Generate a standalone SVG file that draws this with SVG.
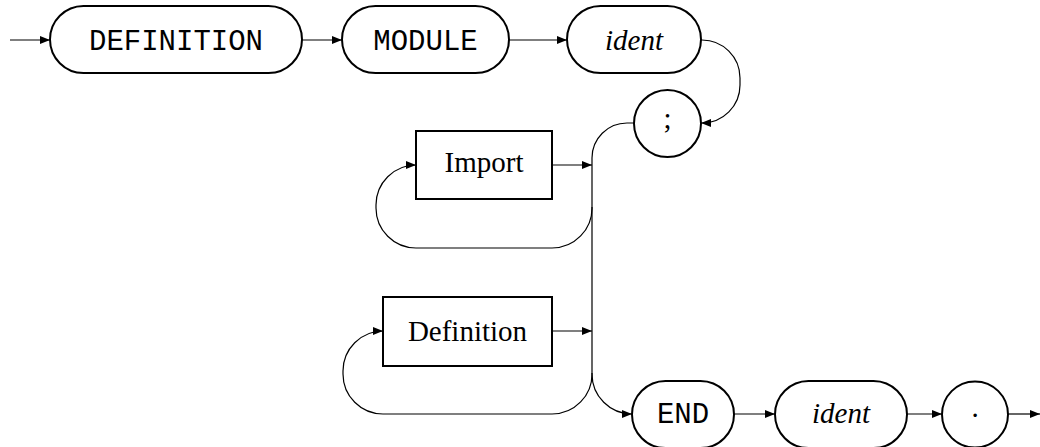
<svg xmlns="http://www.w3.org/2000/svg" width="1040" height="447" viewBox="0 0 1040 447">
<defs>
<marker id="arr" viewBox="0 0 10 8" refX="10" refY="4" markerWidth="10" markerHeight="8" markerUnits="userSpaceOnUse" orient="auto">
<path d="M0,0 L10,4 L0,8 Z" fill="#000"/>
</marker>
<style>
.term{fill:#fff;stroke:#000;stroke-width:2}
.nt{fill:#fff;stroke:#000;stroke-width:2}
.mono{font-family:"Liberation Mono","DejaVu Sans Mono",monospace;font-size:29px;text-anchor:middle;fill:#000}
.serif{font-family:"Liberation Serif","DejaVu Serif",serif;font-size:29px;text-anchor:middle;fill:#000}
.it{font-style:italic}
.c{fill:none;stroke:#000;stroke-width:1.2}
.a{marker-end:url(#arr)}
</style>
</defs>
<rect width="1040" height="447" fill="#fff"/>
<g id="connectors">
<path class="c a" d="M10 40 H50"/>
<path class="c a" d="M302 40 H342"/>
<path class="c a" d="M509 40 H567"/>
<path class="c a" d="M701 40 H702 A38 38 0 0 1 740 78 V85 A38 38 0 0 1 702 123 H701"/>
<path class="c" d="M634 123 H627 A35 35 0 0 0 592 158 V374"/>
<path class="c a" d="M592 374 A40 40 0 0 0 632 414"/>
<path class="c a" d="M552 165 H592"/>
<path class="c a" d="M592 207 A40 40 0 0 1 552 248 H416 A40 40 0 0 1 376 208 V205 A40 40 0 0 1 416 165"/>
<path class="c a" d="M552 331 H592"/>
<path class="c a" d="M592 373 A40 40 0 0 1 552 414 H383 A40 40 0 0 1 343 374 V371 A40 40 0 0 1 383 331"/>
<path class="c a" d="M734 414 H775"/>
<path class="c a" d="M907 414 H942"/>
<path class="c a" d="M1008 414 H1040"/>
</g>
<g id="n-definition">
<rect class="term" x="50" y="6" width="252" height="67" rx="33.5"/>
<text class="mono" x="176" y="49.5">DEFINITION</text>
</g>
<g id="n-module">
<rect class="term" x="342" y="6" width="167" height="67" rx="33.5"/>
<text class="mono" x="425.5" y="49.5">MODULE</text>
</g>
<g id="n-ident1">
<rect class="term" x="567" y="6" width="134" height="67" rx="33.5"/>
<text class="serif it" x="634" y="49.5">ident</text>
</g>
<g id="n-semicolon">
<circle class="term" cx="667.5" cy="123.5" r="33.5"/>
<text class="serif" x="667.5" y="128">;</text>
</g>
<g id="n-import">
<rect class="nt" x="416" y="131" width="136" height="68"/>
<text class="serif" x="484" y="172">Import</text>
</g>
<g id="n-definition2">
<rect class="nt" x="383" y="297" width="169" height="69"/>
<text class="serif" x="467.5" y="341">Definition</text>
</g>
<g id="n-end">
<rect class="term" x="632" y="381" width="102" height="67" rx="33.5"/>
<text class="mono" x="683" y="423">END</text>
</g>
<g id="n-ident2">
<rect class="term" x="775" y="381" width="132" height="67" rx="33.5"/>
<text class="serif it" x="841" y="423">ident</text>
</g>
<g id="n-dot">
<circle class="term" cx="975" cy="414.5" r="33"/>
<text class="serif" x="975" y="417">.</text>
</g>
</svg>
